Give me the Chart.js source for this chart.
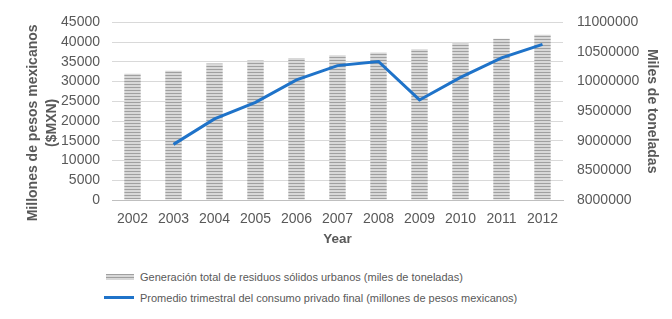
<!DOCTYPE html>
<html>
<head>
<meta charset="utf-8">
<script src="https://cdn.jsdelivr.net/npm/chart.js@4.4.1/dist/chart.umd.min.js"></script>
<style>
  body { margin: 0; background: #fff; font-family: "Liberation Sans", Arial, sans-serif; }
  #wrap { position: relative; width: 672px; height: 319px; }
  #box { position: absolute; left: 0; top: 0; width: 672px; height: 251px; }
  #legend { position: absolute; left: 104px; top: 266px; font-size: 11px; color: #595959; }
  .item { height: 21px; display: flex; align-items: center; }
  .sw { width: 30px; margin-right: 6px; display: inline-block; }
</style>
</head>
<body>
<div id="wrap">
  <div id="box"><canvas id="chart"></canvas></div>
  <div id="legend">
    <div class="item"><span class="sw" style="height:6px;margin-left:2px;width:28px;background:repeating-linear-gradient(#a0a0a0 0 1px,#d8d8d8 1px 3px);"></span>Generación total de residuos sólidos urbanos (miles de toneladas)</div>
    <div class="item"><span class="sw" style="height:3px;background:#1f73c9;"></span>Promedio trimestral del consumo privado final (millones de pesos mexicanos)</div>
  </div>
</div>
<script>
const years = ["2002", "2003", "2004", "2005", "2006", "2007", "2008", "2009", "2010", "2011", "2012"];
const residuos = [32000, 32750, 34600, 35350, 36000, 36700, 37350, 38200, 39750, 40850, 41850];
const consumo = [null, 8940000, 9370000, 9650000, 10030000, 10270000, 10340000, 9690000, 10070000, 10400000, 10630000];
const leftTicks = { min: 0, max: 45000, step: 5000 };
const rightTicks = { min: 8000000, max: 11000000, step: 500000 };

// striped fill for the bars
const pc = document.createElement("canvas");
pc.width = 4; pc.height = 3;
const px = pc.getContext("2d");
px.fillStyle = "#d8d8d8";
px.fillRect(0, 0, 4, 3);
px.fillStyle = "#a0a0a0";
px.fillRect(0, 0, 4, 1);
const stripes = px.createPattern(pc, "repeat");

const textColor = "#595959";
Chart.defaults.font.family = "'Liberation Sans', Arial, sans-serif";
const plain = (v) => String(v);
// trailing spaces push the left title a bit lower, like the original
const pad = "\u00a0".repeat(6);

new Chart(document.getElementById("chart"), {
  type: "bar",
  data: {
    labels: years,
    datasets: [
      {
        type: "line",
        label: "Promedio trimestral del consumo privado final (millones de pesos mexicanos)",
        data: consumo,
        yAxisID: "y1",
        borderColor: "#1f73c9",
        borderWidth: 3,
        pointRadius: 0,
        tension: 0,
        order: 0
      },
      {
        label: "Generación total de residuos sólidos urbanos (miles de toneladas)",
        data: residuos,
        yAxisID: "y",
        backgroundColor: stripes,
        barPercentage: 0.8,
        categoryPercentage: 0.5,
        order: 1
      }
    ]
  },
  options: {
    responsive: true,
    maintainAspectRatio: false,
    animation: false,
    layout: { padding: { top: 12, left: 24, right: 12, bottom: 0 } },
    plugins: { legend: { display: false }, tooltip: { enabled: false } },
    scales: {
      x: {
        grid: { display: false },
        border: { color: "#bfbfbf" },
        ticks: { color: textColor, font: { size: 14 } },
        title: { display: true, text: "Year", color: textColor, font: { size: 13.5, weight: "bold" }, padding: { top: 0 } }
      },
      y: {
        position: "left",
        min: leftTicks.min,
        max: leftTicks.max,
        ticks: { stepSize: leftTicks.step, autoSkip: false, color: textColor, font: { size: 14 }, padding: 12, callback: plain },
        grid: { color: "#d9d9d9", drawTicks: false },
        border: { display: false },
        title: {
          display: true,
          text: ["Millones de pesos mexicanos" + pad, "($MXN)" + pad],
          color: textColor,
          font: { size: 14, weight: "bold", lineHeight: 1.35 },
          padding: 0
        },
        afterFit: (s) => { s.width = 88; }
      },
      y1: {
        position: "right",
        min: rightTicks.min,
        max: rightTicks.max,
        ticks: { stepSize: rightTicks.step, autoSkip: false, color: textColor, font: { size: 14 }, padding: 14, callback: plain },
        grid: { display: false, drawTicks: false },
        border: { display: false },
        title: { display: true, text: "Miles de toneladas", color: textColor, font: { size: 14, weight: "bold" }, padding: 0 },
        afterFit: (s) => { s.width = 97; }
      }
    }
  }
});
</script>
</body>
</html>
